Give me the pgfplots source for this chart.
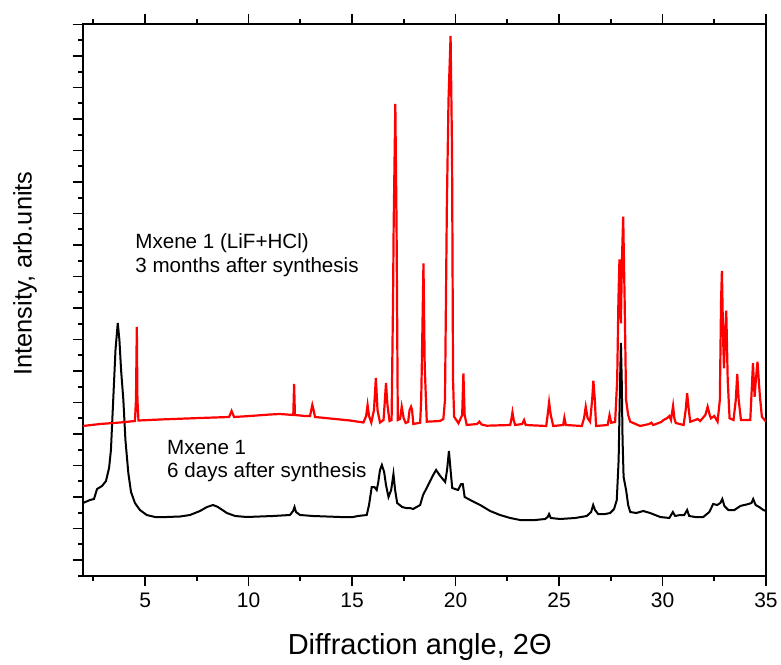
\documentclass[border=0pt]{standalone}
\usepackage{fontspec}
\setmainfont{Liberation Sans}
\usepackage{pgfplots}
\pgfplotsset{compat=1.18}

% pattern; y in arbitrary units (0..552)
\begin{document}
\begin{tikzpicture}
\useasboundingbox (-41.5pt,-44pt) rectangle (349pt,288pt);
\begin{axis}[
  at={(0,0)}, anchor=south west,
  scale only axis,
  width=341.5pt, height=276pt,
  xmin=2, xmax=35, ymin=0, ymax=552,
  xtick={5,10,...,35},
  minor xtick={2.5,7.5,...,32.5},
  ytick={16,47.5,...,552},
  minor ytick={0.25,31.75,...,552},
  yticklabels={},
  xtick pos=both, xticklabel pos=bottom,
  ytick pos=left,
  tick align=outside,
  major tick length=5pt, minor tick length=2.5pt,
  every tick/.style={black, line width=0.9pt},
  axis line style={line width=1pt},
  tick label style={font=\fontsize{10.5}{12}\selectfont},
  /pgf/number format/assume math mode=true,
  xlabel={Diffraction angle, 2Θ},
  ylabel={Intensity, arb.units},
  xlabel style={font=\fontsize{14.5}{17}\selectfont, at={(axis description cs:0.493,-0.128)}, anchor=center},
  ylabel style={font=\fontsize{12.7}{15}\selectfont, at={(axis description cs:-0.085,0.548)}, anchor=center},
  clip=true,
]
% 6 days after synthesis
\addplot[black, line width=1pt] coordinates {
(2.00,73)(2.34,76)(2.53,77)(2.68,87)(2.92,90)(3.11,95)(3.26,108)(3.35,126)
(3.46,176)(3.57,226)(3.68,253)(3.76,236)(3.84,206)(3.95,176)(4.05,136)(4.19,103)
(4.32,84)(4.51,73)(4.75,66)(5.08,61)(5.48,59)(6.05,59)(6.69,59.5)(7.17,61)
(7.65,65)(7.99,69)(8.28,71)(8.52,69)(8.95,63)(9.35,60)(9.91,59)(11.18,60)
(12.00,61)(12.15,65)(12.22,69)(12.29,64)(12.49,61)(13.12,60)(14.42,59)(15.05,59)
(15.29,60)(15.71,61)(15.82,71)(15.95,89)(16.08,89)(16.19,86)(16.26,93)(16.35,106)
(16.44,111)(16.55,104)(16.64,91)(16.76,79)(16.89,86)(17.00,102)(17.08,86)(17.18,73)
(17.42,69)(17.61,68)(17.80,68)(17.95,67)(18.29,71)(18.43,81)(18.68,91)(18.92,101)
(19.06,106)(19.26,100)(19.50,94)(19.59,106)(19.68,125)(19.76,106)(19.84,88)(20.12,86)
(20.27,92)(20.35,92)(20.44,79)(20.71,76)(21.19,71)(21.67,65)(22.15,61)(22.64,58)
(23.12,56)(23.85,56)(24.33,57)(24.45,59)(24.52,62)(24.60,58)(25.05,57)(25.78,58)
(26.34,60)(26.55,64)(26.65,71)(26.74,66)(26.89,62)(27.23,62)(27.47,63)(27.66,67)
(27.79,76)(27.88,116)(27.95,196)(27.99,233)(28.03,196)(28.07,136)(28.12,99)(28.24,86)
(28.34,71)(28.44,64)(28.73,63)(29.07,65)(29.40,63)(29.89,59)(30.33,58)(30.50,64)
(30.61,60)(30.85,61)(31.05,61)(31.19,66)(31.29,60)(31.58,59)(31.97,59)(32.26,64)
(32.45,72)(32.64,71)(32.79,73)(32.89,77)(32.99,70)(33.18,66)(33.47,66)(33.76,70)
(34.15,72)(34.30,73)(34.38,77)(34.50,71)(34.67,69)(34.87,66)(35.00,65)
};
% 3 months after synthesis
\addplot[red, line width=1.1pt] coordinates {
(2.00,150)(2.82,152)(3.79,153.5)(4.51,155)(4.56,176)(4.60,249)(4.63,176)(4.68,155.5)
(5.72,156.5)(7.65,158)(9.06,159)(9.18,165)(9.30,159)(10.07,160)(11.04,161.5)(11.52,162)
(12.16,161)(12.20,192)(12.24,161)(12.73,160)(12.97,160)(13.05,168)(13.08,171)(13.14,166)
(13.21,159)(13.94,157.5)(14.90,155.5)(15.55,153.5)(15.68,160)(15.75,171)(15.82,160)(15.93,153.5)
(16.06,166)(16.15,198)(16.23,166)(16.35,153.5)(16.52,156)(16.57,171)(16.64,193)(16.71,171)
(16.81,155)(16.91,156)(16.98,276)(17.01,350)(17.09,472)(17.15,350)(17.21,156)(17.32,157)
(17.40,169.3)(17.49,158)(17.59,153)(17.71,154)(17.78,166)(17.85,169.3)(17.90,166)(17.96,152)
(18.29,153.3)(18.34,176)(18.37,209.3)(18.45,312.7)(18.51,210)(18.61,154.3)(19.25,155)(19.41,157)
(19.49,176)(19.58,369.3)(19.66,476)(19.76,540)(19.83,426)(19.88,196)(19.93,159.3)(20.14,152.7)
(20.32,161)(20.38,202.7)(20.44,161)(20.54,151)(21.04,152)(21.15,154.3)(21.26,151.5)(21.51,150.3)
(22.64,151)(22.69,156)(22.75,163.7)(22.81,156)(22.88,151)(23.22,152)(23.31,156)(23.39,151)
(24.38,150)(24.45,161)(24.52,173.7)(24.60,161)(24.72,150)(25.20,151)(25.26,158.3)(25.33,151)
(26.10,150)(26.21,158)(26.29,169.3)(26.38,158)(26.50,154.3)(26.60,176)(26.66,195.3)(26.73,176)
(26.79,150)(27.35,151)(27.44,161)(27.52,153.3)(27.71,154)(27.81,196)(27.87,276)(27.92,316.7)
(27.99,252.7)(28.04,316)(28.10,359.3)(28.17,276)(28.24,176)(28.34,161)(28.44,154.3)(28.92,150)
(29.36,152)(29.46,153.3)(29.55,151)(29.94,154)(30.05,156)(30.23,158)(30.33,160)(30.41,156)
(30.51,170)(30.57,158)(30.64,153)(31.02,151)(31.12,166)(31.19,182.7)(31.27,166)(31.34,154.3)
(31.58,156)(31.70,157)(31.82,155)(32.07,161)(32.18,169.3)(32.28,161)(32.34,157.7)(32.50,160)
(32.66,154.3)(32.77,176)(32.83,276)(32.87,305)(32.93,236)(32.97,207.7)(33.03,246)(33.08,265.3)
(33.15,196)(33.24,157.7)(33.43,156)(33.54,176)(33.61,202)(33.68,176)(33.79,156)(34.24,156)
(34.31,186)(34.37,212.7)(34.45,179.3)(34.51,196)(34.59,214.3)(34.70,181)(34.80,159.3)(35.00,154.3)
};
\node[anchor=base west, inner sep=0pt, font=\fontsize{10.3}{12}\selectfont] at (axis cs:4.51,327) {Mxene 1 (LiF+HCl)};
\node[anchor=base west, inner sep=0pt, font=\fontsize{10.3}{12}\selectfont] at (axis cs:4.51,303) {3 months after synthesis};
\node[anchor=base west, inner sep=0pt, font=\fontsize{10.3}{12}\selectfont] at (axis cs:6.05,121) {Mxene 1};
\node[anchor=base west, inner sep=0pt, font=\fontsize{10.3}{12}\selectfont] at (axis cs:6.05,98) {6 days after synthesis};
\end{axis}
\end{tikzpicture}
\end{document}
